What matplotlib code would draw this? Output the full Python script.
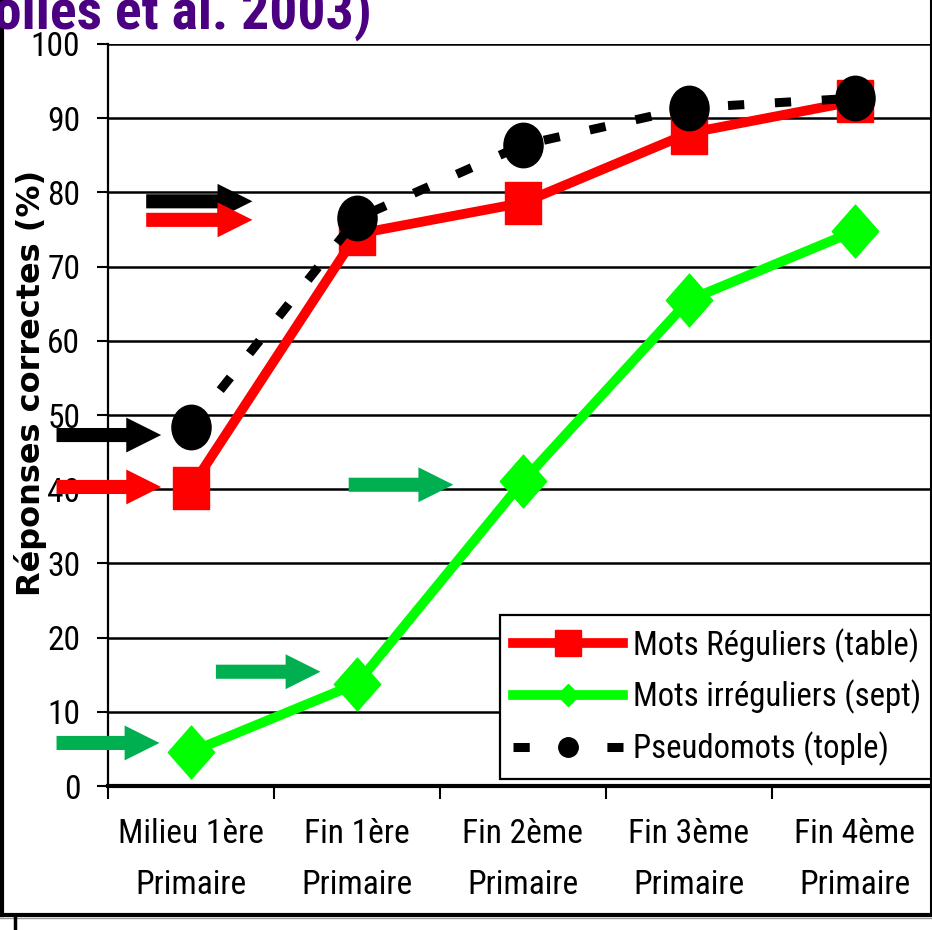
import matplotlib
matplotlib.use("Agg")
import matplotlib.pyplot as plt
from matplotlib import font_manager as fm
from matplotlib.lines import Line2D
from matplotlib.patches import FancyArrow
from matplotlib.path import Path
from matplotlib.transforms import Affine2D

# ---- data -------------------------------------------------------------
categories = ["Milieu 1ère\nPrimaire", "Fin 1ère\nPrimaire", "Fin 2ème\nPrimaire",
              "Fin 3ème\nPrimaire", "Fin 4ème\nPrimaire"]
mots_reguliers = [40.2, 74.4, 78.6, 88.0, 92.3]
mots_irreguliers = [4.6, 13.8, 41.1, 65.5, 74.8]
pseudomots = [48.4, 76.5, 86.4, 91.4, 92.7]
series_labels = ["Mots Réguliers (table)", "Mots irréguliers (sept)", "Pseudomots (tople)"]
y_ticks = list(range(0, 101, 10))

# reference-level arrows: (level %, start, end, colour)
arrow_levels = [47.3, 40.3, 78.8, 76.3, 40.6, 15.4, 5.8]
arrow_starts = [-0.81, -0.81, -0.27, -0.27, 0.95, 0.15, -0.81]
arrow_ends = [-0.18, -0.18, 0.37, 0.37, 1.58, 0.78, -0.19]
arrow_colors = ["black", "red", "black", "red", "#00b050", "#00b050", "#00b050"]

title_text = "(Sprenger-Charolles et al. 2003)"
ylabel_text = "Réponses correctes (%)"

# ---- pick a narrow sans face if one is installed -----------------------
entries = fm.fontManager.ttflist
names = {f.name for f in entries}
narrow = None
for cand in ["Liberation Sans Narrow", "Arial Narrow", "Roboto Condensed",
             "Open Sans Condensed", "DejaVu Sans Condensed"]:
    if cand in names:
        narrow = dict(family=[cand, "DejaVu Sans"])
        break
if narrow is None:
    if any(f.name == "DejaVu Sans" and f.stretch in ("condensed", "semi-condensed")
           for f in entries):
        narrow = dict(family=["DejaVu Sans"], stretch="condensed")
    else:
        narrow = dict(family=["Liberation Sans", "DejaVu Sans"])

W, H = 932, 930
fig = plt.figure(figsize=(W / 100, H / 100), dpi=100)
renderer = fig.canvas.get_renderer()


def fit_size(sample, target_px, weight="normal", ref=30):
    """Font size (pt) at which `sample` is target_px wide."""
    t = fig.text(0, 0, sample, fontsize=ref, weight=weight, **narrow)
    w = t.get_window_extent(renderer=renderer).width
    t.remove()
    return ref * target_px / w


tick_fs = min(fit_size("Milieu 1ère", 146), 26)
leg_fs = min(fit_size("Mots irréguliers (sept)", 288), 25)
title_fs = fit_size("olles et al. 2003)", 378, weight="bold")

ax = fig.add_axes([108 / W, (H - 786) / H, 830 / W, 742 / H])
x = list(range(len(categories)))

# slightly tall markers
ellipse = Path.unit_circle().transformed(Affine2D().scale(0.88, 1.0))
tall_square = Path([(-0.43, -0.5), (0.43, -0.5), (0.43, 0.5), (-0.43, 0.5), (-0.43, -0.5)],
                   [Path.MOVETO, Path.LINETO, Path.LINETO, Path.LINETO, Path.CLOSEPOLY])
tall_diamond = Path([(0, -0.5), (0.44, 0), (0, 0.5), (-0.44, 0), (0, -0.5)],
                    [Path.MOVETO, Path.LINETO, Path.LINETO, Path.LINETO, Path.CLOSEPOLY])

ax.plot(x, mots_reguliers, color="red", lw=7, marker=tall_square, ms=30,
        mec="red", mfc="red", zorder=3, solid_joinstyle="miter")
ax.plot(x, mots_irreguliers, color="#00ff00", lw=7, marker=tall_diamond, ms=38,
        mec="#00ff00", mfc="#00ff00", zorder=3)
ax.plot(x, pseudomots, color="black", lw=6.5, ls=(0, (1.8, 3.4)), marker=ellipse,
        ms=32, mec="black", mfc="black", zorder=4, dash_capstyle="butt")

for lvl, x0, x1, col in zip(arrow_levels, arrow_starts, arrow_ends, arrow_colors):
    ax.add_patch(FancyArrow(x0, lvl, x1 - x0, 0, width=1.9, head_width=4.7,
                            head_length=0.21, length_includes_head=True,
                            color=col, lw=0, clip_on=False, zorder=5))

ax.set_xlim(-0.5, 4.5)
ax.set_ylim(0, 100)
ax.set_yticks(y_ticks)
ax.yaxis.grid(True, color="black", lw=1.8, zorder=0)
ax.set_axisbelow(True)

for s in ("top", "right"):
    ax.spines[s].set_visible(False)
ax.spines["left"].set_linewidth(1.6)
ax.spines["bottom"].set_linewidth(3)

ax.tick_params(axis="y", direction="out", length=8, width=1.5, pad=12,
               labelsize=tick_fs)
ax.set_xticks([i - 0.5 for i in range(len(categories) + 1)])
ax.set_xticklabels([])
ax.tick_params(axis="x", which="major", direction="out", length=9, width=1.5)
ax.set_xticks(x, minor=True)
ax.set_xticklabels(categories, minor=True, linespacing=1.78)
ax.tick_params(axis="x", which="minor", length=0, pad=23, labelsize=tick_fs)
for lab in ax.get_yticklabels() + ax.get_xticklabels(minor=True):
    lab.set_family(narrow["family"])
    if "stretch" in narrow:
        lab.set_stretch(narrow["stretch"])

# legend
handles = [
    Line2D([], [], color="red", lw=7, marker="s", ms=19, mfc="red", mec="red"),
    Line2D([], [], color="#00ff00", lw=7, marker="D", ms=11, mfc="#00ff00", mec="#00ff00"),
    Line2D([], [], color="black", lw=6.5, ls=(0, (1.8, 3.4)), marker="o", ms=14,
           mfc="black", mec="black", dash_capstyle="butt"),
]
leg_prop = fm.FontProperties(size=leg_fs, **narrow)
leg = ax.legend(handles, series_labels, loc="upper left",
                bbox_to_anchor=((500 - 108) / 830, (786 - 615) / 742),
                borderaxespad=0, frameon=True, fancybox=False, framealpha=1,
                edgecolor="black", handlelength=79 / leg_fs, handletextpad=0.3,
                labelspacing=0.52, borderpad=0.4, numpoints=1, prop=leg_prop)
leg.get_frame().set_linewidth(1.6)
leg.set_zorder(10)

# axis title (vertical)
fig.text(31 / W, 1 - 383 / H, ylabel_text, rotation=90, ha="center", va="center",
         family=["DejaVu Sans"], weight="bold", fontsize=23)

# heading, partly cut by the top edge
fig.text(372 / W, 1 - 30 / H, title_text, ha="right", va="baseline",
         weight="bold", fontsize=title_fs, color="#4b0082", **narrow)

# outer chart frame
frame_kw = dict(transform=fig.transFigure, color="black", clip_on=False)
fig.add_artist(Line2D([2 / W, 2 / W], [(H - 915) / H, 1], lw=3, **frame_kw))
fig.add_artist(Line2D([0, 1], [(H - 915) / H, (H - 915) / H], lw=3, **frame_kw))
fig.add_artist(Line2D([0, 1], [(H - 918) / H, (H - 918) / H], lw=1, transform=fig.transFigure,
                      color="#999999"))
fig.add_artist(Line2D([930.5 / W, 930.5 / W], [(H - 915) / H, 1], lw=1.5, **frame_kw))
fig.add_artist(Line2D([15 / W, 15 / W], [0, (H - 917) / H], lw=2.5, **frame_kw))

fig.savefig("out.png", dpi=100)
